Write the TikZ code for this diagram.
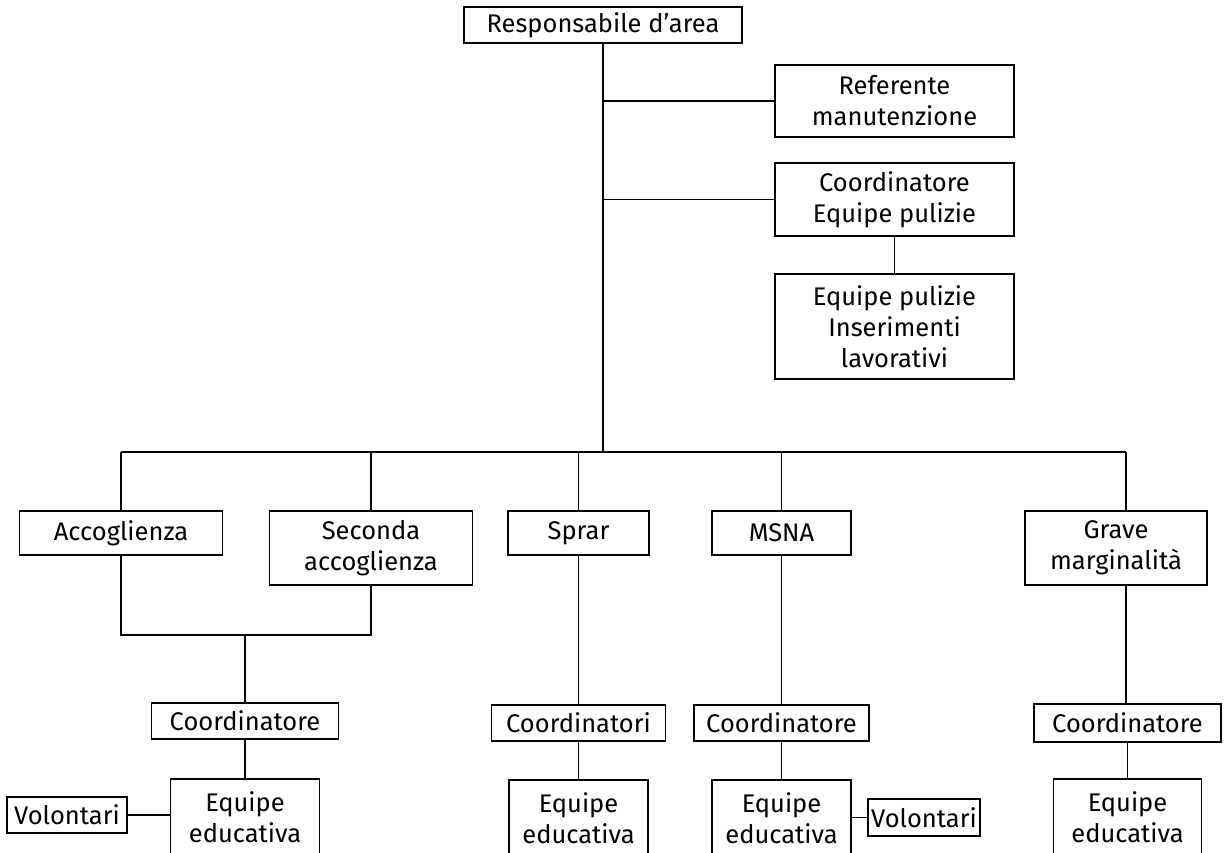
\documentclass[tikz,border=0pt]{standalone}
\usepackage{fontspec}
\setmainfont{Fira Sans}
\begin{document}
\begin{tikzpicture}[x=1pt,y=-1pt,
  box/.style={draw, line width=1.4pt, inner sep=0pt, align=center,
    font=\fontsize{25.5}{31}\selectfont},
  link/.style={line width=1.4pt}]
\clip (0,0) rectangle (1225,852);
\useasboundingbox (0,0) rectangle (1225,852);

% top of the chart
\node[box, minimum width=278pt, minimum height=36pt] (resp) at (603,25) {Responsabile d’area};
\node[box, minimum width=239pt, minimum height=72pt] (ref) at (894.5,101) {Referente\\manutenzione};
\node[box, minimum width=239pt, minimum height=73pt] (coordp) at (894.5,199.5) {Coordinatore\\Equipe pulizie};
\node[box, minimum width=239pt, minimum height=105pt] (eqp) at (894.5,326.5) {Equipe pulizie\\Inserimenti\\lavorativi};

% areas
\node[box, minimum width=203pt, minimum height=44pt] (acc) at (121,533) {Accoglienza};
\node[box, minimum width=203pt, minimum height=74pt] (sec) at (371,548) {Seconda\\accoglienza};
\node[box, minimum width=141pt, minimum height=44pt] (sprar) at (578.5,533) {Sprar};
\node[box, minimum width=139pt, minimum height=44pt] (msna) at (781.5,533) {MSNA};
\node[box, minimum width=182pt, minimum height=74pt] (grave) at (1116,548) {Grave\\marginalità};

% coordinators
\node[box, minimum width=187pt, minimum height=36pt] (coordL) at (245,721) {Coordinatore};
\node[box, minimum width=174pt, minimum height=36pt] (coordS) at (578.5,723) {Coordinatori};
\node[box, minimum width=175pt, minimum height=36pt] (coordM) at (781.5,723) {Coordinatore};
\node[box, minimum width=187pt, minimum height=38pt] (coordG) at (1127.5,723) {Coordinatore};

% teams
\node[box, minimum width=149pt, minimum height=76pt] (eqL) at (245,817) {Equipe\\educativa};
\node[box, minimum width=139pt, minimum height=76pt] (eqS) at (578.5,818) {Equipe\\educativa};
\node[box, minimum width=139pt, minimum height=76pt] (eqM) at (781.5,818) {Equipe\\educativa};
\node[box, minimum width=148pt, minimum height=76pt] (eqG) at (1127.5,817) {Equipe\\educativa};
\node[box, minimum width=120pt, minimum height=36pt] (volL) at (67,815) {Volontari};
\node[box, minimum width=112pt, minimum height=37pt] (volR) at (924,817.5) {Volontari};

% junction points
\coordinate (busL) at (121,452);
\coordinate (busM) at (603,452);
\coordinate (busR) at (1126,452);
\coordinate (gtop) at (1126,511);
\coordinate (gbot) at (1126,585);
\coordinate (mergeL) at (121,635);
\coordinate (mergeR) at (371,635);
\coordinate (mergeM) at (245,635);

% connectors
\draw[link] (resp.south) -- (busM);
\draw[link] (resp.south |- ref.west) -- (ref.west);
\draw[link] (resp.south |- coordp.west) -- (coordp.west);
\draw[link] (coordp.south) -- (eqp.north);
\draw[link] (busL) -- (busR);
\draw[link] (busL) -- (acc.north);
\draw[link] (sec.north |- busL) -- (sec.north);
\draw[link] (sprar.north |- busL) -- (sprar.north);
\draw[link] (msna.north |- busL) -- (msna.north);
\draw[link] (busR) -- (gtop);
\draw[link] (acc.south) -- (mergeL) -- (mergeR) -- (sec.south);
\draw[link] (mergeM) -- (coordL.north);
\draw[link] (coordL.south) -- (eqL.north);
\draw[link] (volL.east) -- (eqL.west |- volL.east);
\draw[link] (sprar.south) -- (coordS.north);
\draw[link] (coordS.south) -- (eqS.north);
\draw[link] (msna.south) -- (coordM.north);
\draw[link] (coordM.south) -- (eqM.north);
\draw[link] (eqM.east |- volR.west) -- (volR.west);
\draw[link] (gbot) -- (coordG.north -| gbot);
\draw[link] (coordG.south) -- (eqG.north);
\end{tikzpicture}
\end{document}
